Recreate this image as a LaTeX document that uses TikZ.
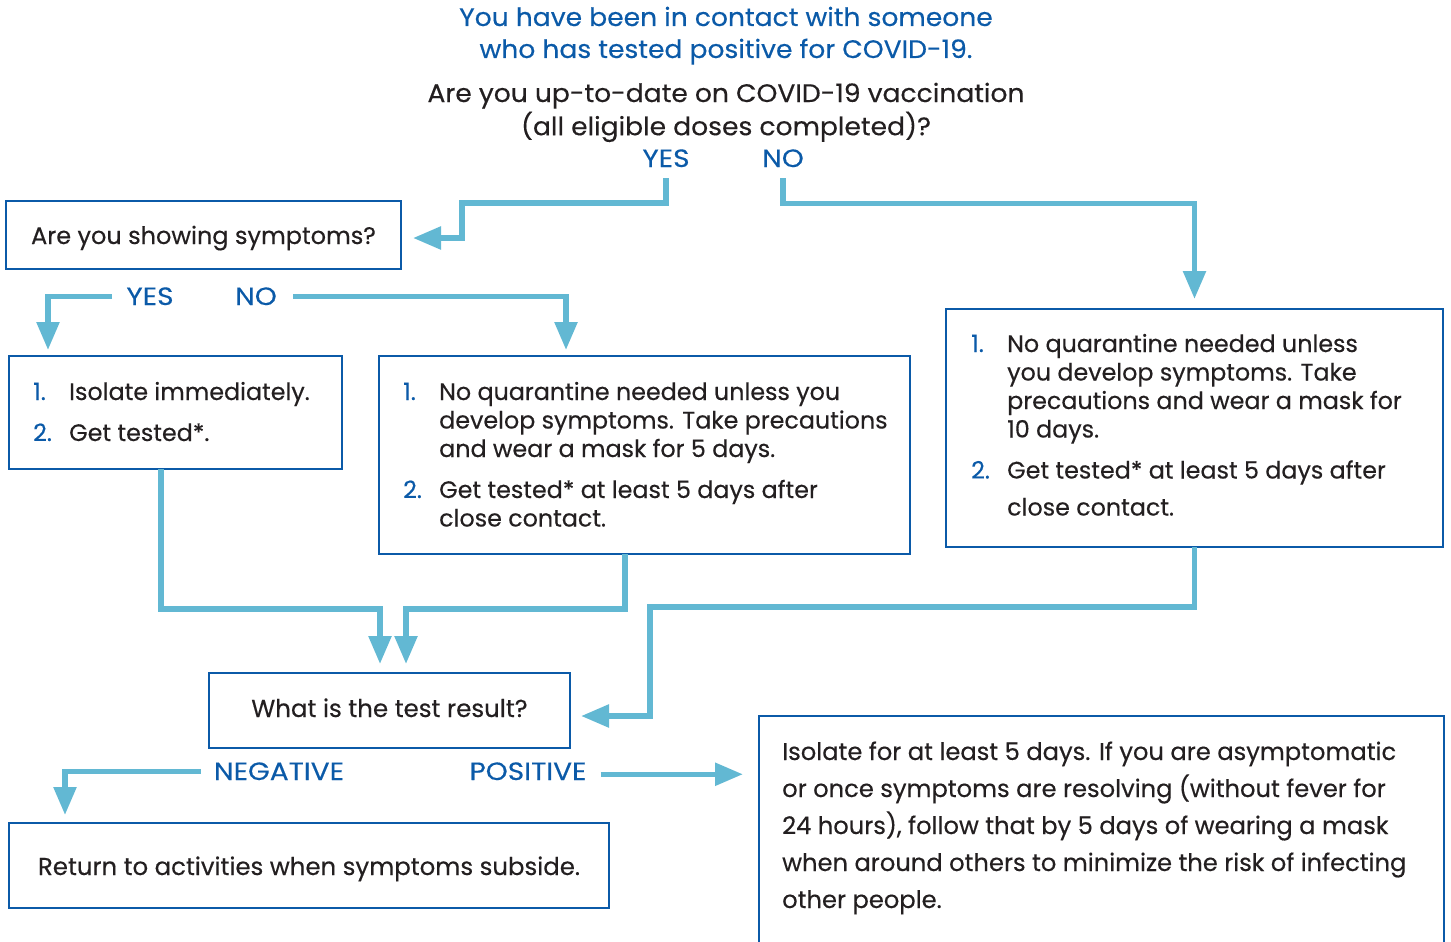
\documentclass[tikz,border=0pt]{standalone}
\usepackage{fontspec}
\setmainfont[FakeBold=0.35]{Poppins}
\newfontfamily\headfont[FakeStretch=1.05,FakeBold=0.35]{Poppins}
\newfontfamily\labfont[FakeStretch=1.12,FakeBold=0.35]{Poppins}
\usetikzlibrary{arrows.meta,calc}
\definecolor{dblue}{HTML}{0B5AA8}
\definecolor{lblue}{HTML}{62B8D3}
\definecolor{ink}{HTML}{231F20}
\newcommand\nm[1]{\makebox[36pt][l]{\color{dblue}#1}}
\begin{document}
\begin{tikzpicture}[x=1pt,y=-1pt,
  box/.style={draw=dblue,line width=2.8pt,rectangle,inner sep=0pt,outer sep=0pt},
  flow/.style={draw=lblue,line width=5.5pt,-{Triangle[length=28pt,width=22pt]}},
  lab/.style={text=dblue,font=\labfont\fontsize{25}{28}\selectfont,inner sep=0pt,anchor=base},
  body/.style={text=ink,font=\fontsize{23.8}{28.5}\selectfont,inner sep=0pt},
  head/.style={font=\headfont\fontsize{25.3}{32}\selectfont,inner sep=0pt,anchor=base}]
\useasboundingbox (0,0) rectangle (1451,942);
\clip (0,0) rectangle (1451,942);

% titles
\node[head,text=dblue] (title) at (726,26) {\begin{tabular}[t]{@{}c@{}}You have been in contact with someone\\who has tested positive for COVID-19.\end{tabular}};
\node[head,text=ink] (quest) at (726,102) {\begin{tabular}[t]{@{}c@{}}Are you up-to-date on COVID-19 vaccination\\(all eligible doses completed)?\end{tabular}};
\node[lab] (yes1) at (666,167) {YES};
\node[lab] (no1) at (783,167) {NO};

% boxes
\node[box,minimum width=395pt,minimum height=68pt] (sym) at (203.5,235) {};
\node[body,anchor=base,font=\fontsize{24}{28.5}\selectfont] (symt) at (203.5,244) {Are you showing symptoms?};
\node[lab] (yes2) at (150,305) {YES};
\node[lab] (no2) at (256,305) {NO};

\node[box,minimum width=333pt,minimum height=113pt] (boxA) at (175.5,412.5) {};
\node[body,anchor=base west] (tA) at (33,400) {\begin{tabular}[t]{@{}l@{}}\nm{1.}Isolate immediately.\\[12.5pt]\nm{2.}Get tested*.\end{tabular}};

\node[box,minimum width=531pt,minimum height=198pt] (boxB) at (644.5,455) {};
\node[body,anchor=base west] (tB) at (403,400) {\begin{tabular}[t]{@{}l@{}}\nm{1.}No quarantine needed unless you\\\nm{}develop symptoms. Take precautions\\\nm{}and wear a mask for 5 days.\\[12.5pt]\nm{2.}Get tested* at least 5 days after\\\nm{}close contact.\end{tabular}};

\node[box,minimum width=497pt,minimum height=238pt] (boxC) at (1194.5,428) {};
\node[body,anchor=base west] (tC) at (971,352) {\begin{tabular}[t]{@{}l@{}}\nm{1.}No quarantine needed unless\\\nm{}you develop symptoms. Take\\\nm{}precautions and wear a mask for\\\nm{}10 days.\\[12.5pt]\nm{2.}Get tested* at least 5 days after\\[8.5pt]\nm{}close contact.\end{tabular}};

\node[box,minimum width=361pt,minimum height=75pt] (test) at (389.5,710.5) {};
\node[body,anchor=base,font=\fontsize{24.5}{28.5}\selectfont] (testt) at (389.5,717) {What is the test result?};
\node[lab] (neg) at (279,780) {NEGATIVE};
\node[lab] (pos) at (528,780) {POSITIVE};

\node[box,minimum width=600pt,minimum height=85pt] (ret) at (309,865.5) {};
\node[body,anchor=base,font=\fontsize{24.4}{28.5}\selectfont] (rett) at (309,875) {Return to activities when symptoms subside.};

\node[box,minimum width=685pt,minimum height=300pt] (iso) at (1101.5,866) {};
\node[text=ink,font=\fontsize{24.2}{37}\selectfont,inner sep=0pt,anchor=base west] (isot) at (782,760) {\begin{tabular}[t]{@{}l@{}}Isolate for at least 5 days. If you are asymptomatic\\or once symptoms are resolving (without fever for\\24 hours), follow that by 5 days of wearing a mask\\when around others to minimize the risk of infecting\\other people.\end{tabular}};

% connectors
\draw[flow] ([yshift=-11pt]yes1.south) |- ($(sym.east)+(61,-32)$) |- ($(sym.east)+(12,3)$);
\draw[flow] ([yshift=-11pt]no1.south) -- ++(0,25) -| ($(boxC.north)+(0,-10)$);
\draw[flow] ($(yes2.west)+(-14,0)$) -| ($(boxA.north west)+(39,-6)$);
\draw[flow] ($(no2.east)+(16,0)$) -| ($(boxB.north west)+(187,-6)$);
\draw[flow] ($(boxA.south west)+(152,0)$) -- ++(0,140) -| ($(test.north)+(-9.5,-9)$);
\draw[flow] ($(boxB.south west)+(246,0)$) -- ++(0,55) -| ($(test.north)+(16.5,-9)$);
\draw[flow] (boxC.south) -- ++(0,60) -| ($(test.east)+(80,5.5)$) -- ($(test.east)+(11,5.5)$);
\draw[flow] ($(neg.west)+(-13,0)$) -| ($(ret.north west)+(56,-8)$);
\draw[flow] ($(pos.east)+(14,3)$) -- ($(pos.east -| iso.west)+(-16,3)$);
\end{tikzpicture}
\end{document}
